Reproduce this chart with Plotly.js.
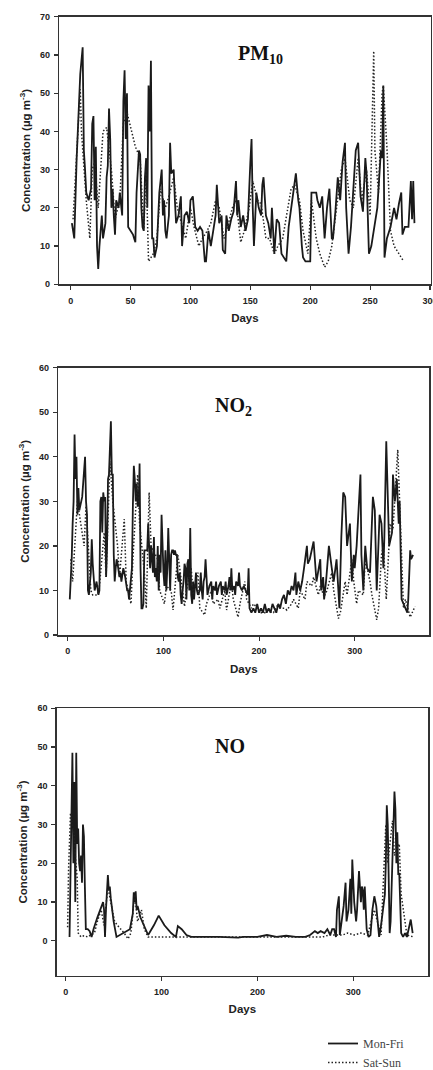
<!DOCTYPE html>
<html>
<head>
<meta charset="utf-8">
<script src="https://cdn.plot.ly/plotly-3.0.1.min.js"></script>
<style>
html,body{margin:0;padding:0;background:#fff;overflow:hidden;}
#chart{width:433px;}
</style>
</head>
<body>
<div id="chart"></div>
<script>
// ---------- PM10 ----------
const pm10WeekDays = [1,3,5,7,8,10,11,12,13,15,17,18,19,20,21,22,23,24,26,27,29,30,31,32,33,34,35,36,37,38,40,41,42,43,44,45,46,47,48,50,52,53,54,55,57,58,59,60,61,62,63,64,65,66,67,68,69,70,72,74,76,77,78,79,80,82,83,84,86,87,88,90,92,93,95,97,99,100,102,104,106,108,110,112,113,115,117,119,121,122,124,126,127,129,130,132,134,136,138,139,140,142,144,146,148,150,151,152,153,155,157,159,160,161,163,165,167,168,170,172,174,176,178,180,182,184,186,188,190,191,193,194,196,198,200,201,203,205,206,208,210,212,214,216,218,219,221,223,225,227,229,230,232,234,236,238,240,242,244,246,247,249,251,253,256,259,260,261,262,264,267,270,272,274,276,277,279,282,284,285,286,287];
const pm10WeekVals = [16,12,33,47,55,62,35,30,24,22,25,42,44,22,36,10,4,10,18,12,16,28,31,46,38,20,25,18,13,22,20,24,21,18,48,56,38,50,15,14,13,12,11,24,35,34,20,15,14,28,33,20,52,40,58.5,12,12,7,10,24,30,18,22,14,12,18,37,29,30,22,16,18,23,10,18,19,16,22,23,15,14,15,14,6,6,14,10,14,18,26,16,18,9,8,18,14,17,19,27,18,22,15,18,14,17,32,38,20,10,24,20,18,26,28,18,16,12,20,8,17,16,8,7,6,15,20,25,29,22,20,10,7,6,6,6,24,24,24,22,20,23,12,20,25,12,12,19,28,22,32,37,20,8,15,25,35,37,23,19,33,29,8,10,14,20,35,33,52,7,12,15,20,17,21,24,13,15,15,27,17,27,16];
const pm10EndDays = [2,6,8,9,13,16,18,20,23,27,30,34,37,41,44,47,51,54,58,61,63,65,69,72,75,79,82,86,89,93,96,100,103,107,110,114,117,121,124,128,131,135,138,142,145,149,152,156,159,163,166,170,173,177,180,184,187,191,194,198,201,205,208,212,215,218,222,226,229,233,236,240,243,247,250,253,254,257,260,261,264,267,270,274,278];
const pm10EndVals = [17,41,51,40,22,12,30,32,20,40,41,30,17,22,42,45,40,36,33,14,30,6,8,12,25,20,23,28,20,15,12,20,15,10,12,14,16,22,20,12,15,20,22,11,14,20,27,22,21,12,12,8,10,12,18,25,26,22,14,8,22,12,8,4.5,6,10,20,30,33,22,20,33,22,30,18,61,35,24,50,52,36,14,10,8,6];

// ---------- NO2 ----------
const no2WeekDays = [2,3,4,5,6,7,8,9,10,11,12,14,15,17,18,19,20,21,22,24,25,26,27,28,30,32,33,34,35,36,37,38,39,40,41,42,43,44,45,46,47,48,49,50,51,52,54,55,56,58,60,62,63,64,65,66,67,68,69,70,71,72,73,74,75,76,77,78,79,80,81,83,84,85,86,87,88,89,90,91,92,93,94,95,96,97,98,99,100,101,102,103,104,105,106,107,108,109,110,111,112,113,114,115,116,117,118,119,120,121,122,123,124,125,126,127,128,129,130,131,132,134,135,136,138,139,140,141,142,143,144,145,146,148,150,151,152,154,155,156,158,160,161,162,164,165,166,168,169,170,171,172,174,175,176,178,179,180,182,184,186,188,189,190,192,194,196,198,200,202,204,206,208,210,212,214,216,218,220,222,224,226,228,230,232,234,236,238,239,241,243,245,247,250,251,253,257,260,264,265,267,268,270,273,276,278,281,284,286,288,290,292,295,297,299,300,302,304,306,307,309,311,313,316,319,321,323,326,328,330,331,333,334,336,339,340,342,344,346,347,349,351,353,355,356,358,359,361];
const no2WeekVals = [8,12,17,25,30,45,35,40,27,33,28,30,31,37,40,30,27,10,9,14,21.5,16,12,10,12,9,10,30,31,23,32,30,31,13,20,35,36,44,48,36,36,18,12,15,17,16,13,14,12,15,13,10,10,8,10,13,15,29,38,35,30,34,29,29,38.5,15,6,6,7,19,19,19,25,20,15,20,16,14,22,13,15,12,20,10,18,14,27,17,14,11,19,10,15,24,16,10,18,19,19,18,19,18,18,13,12,14,9,7,10,12,16,15,8,16,17,10,24,9,7,12,8,14,10,9,10,14,10,8,12,13,17,11,9,11,12,8,11,10,12,9,11,12,9,11,10,12,9,11,13,10,15,10,11,9,12,11,14,11,10,11,10,9,15,6,5,6,5,7,5,6,5,7,5,6,5,7,6,5,7,6,8,9,7,10,9,11,10,14,9,12,10,12,15,20,16,17,21,12,17,10,13,8,12,20,15,12,17,6,22,32,31,20,25,12,18,15,20,28,36,18,10,20,15,14,31,28,10,27,25,15,22,43.5,35,20,23,36,30,35,25,30,8,7,6,5,8,19,17,18];
const no2EndDays = [3,5,10,12,17,19,24,26,31,33,38,40,44,47,52,54,59,61,66,68,73,75,80,82,85,87,94,96,101,103,108,110,115,117,122,124,129,131,136,138,143,145,150,152,157,159,164,166,171,173,178,180,185,187,192,194,199,201,206,208,213,215,220,222,227,229,234,236,241,243,248,250,255,257,262,264,268,271,276,278,283,285,290,292,297,299,302,304,309,311,316,318,323,325,328,330,333,337,340,344,345,351,353,358,363];
const no2EndVals = [17,12,30,27,20,29,10,9,9,11,23,13,39,30,20,13,26,12,7,17,36,25,14,6,32,20,17,10,7,11,10,5.6,18,15,6.4,10,15,9,14,6,4.5,7,10,7,8,6,10,5.6,12,8,4,7,12,8,6,7,6,5,5,6,5,5,7,6,6,5.6,7,8,6,10,8,12,11,13,9,11,8.6,10,14,10,3.7,5,12,9,17,12,7,10,9,17,12,9,3.4,6,18,20,8,25,23.6,38,41.6,6,8,4,6.4];

// ---------- NO ----------
const noWeekDays = [4,5,6,7,8,9,10,11,12,13,14,15,16,17,18,19,20,21,23,25,27,29,33,37,39,40,41,42,43,44,45,46,47,50,53,60,67,70,71,72,73,74,75,78,83,86,92,97,103,110,115,117,121,126,131,140,160,180,185,200,210,220,230,240,250,255,260,263,266,270,273,276,278,280,282,283,285,286,288,290,292,293,295,297,298,299,301,303,304,305,306,308,309,310,311,312,314,316,318,320,322,324,326,327,329,331,333,334,335,336,337,338,339,341,342,343,344,345,346,347,348,349,350,352,354,356,358,360,362];
const noWeekVals = [1,18,35,48.5,20,41,10,48.5,25,29,20,18,22,15,30,27,14,3,3,2.5,1,3,6,9,10,8,1,8,14,17,13,14,11,5,1,2,3,7,12.5,10,12.8,8,9,6,3,1.5,4,6.5,4,2,1,3.8,3,1.5,1,1,1,0.8,1,1,1.5,1,1.3,1,1,1.5,2.5,2,2.5,2,3,1.5,3,3,1,8,11.5,1.5,5,9,15,5,8,16,7,21,10,5,8,15,18,10,14,13,8,14,3,1,1.5,8,11.5,9,2,1,4,8,12,20,35,30,8,2,5,23,32,38.5,34,20,28,17,17.5,10,2,1,2,1,3,5.5,2];
const noEndDays = [2,3,5,9,10,12,13,16,19,23,26,30,33,37,40,44,47,51,54,58,61,65,68,72,75,79,82,86,89,93,96,100,107,114,121,128,135,142,149,156,163,170,177,184,191,198,205,212,219,226,233,240,247,254,261,268,275,282,289,294,301,308,315,322,329,334,336,341,343,348,350,356,363];
const noEndVals = [3.5,18.5,33,27,22,16,2,1,1.3,1,1.5,2,5,8,4,14,10,5,4,3,2,0.5,2,12,5,8,3,1,1,1,1,1,1,1,1,1,1,1,1,1,1,1,1,1,1,1,1,1,1,1,1,1,1,1,1,1,1.5,1.5,1.5,2,1.5,2,1.5,8,1.5,30,20,31,22,25,12,1.5,1];

const panelTitles = ['PM<sub>10</sub>', 'NO<sub>2</sub>', 'NO'];
const seriesNames = ['Mon-Fri', 'Sat-Sun'];
const yTitle = 'Concentration (µg m<sup>-3</sup>)';
const xTitle = 'Days';

const solidStyle = {color:'#1a1a1a', width:1.8, dash:'solid'};
const dotStyle = {color:'#222', width:1.5, dash:'1.5px,2px'};

function pair(xs, ys, xe, ye, ax, show){
  return [
    {x:xs, y:ys, type:'scatter', mode:'lines', line:solidStyle, name:seriesNames[0],
     xaxis:'x'+ax, yaxis:'y'+ax, showlegend:show, legendgroup:'wk', hoverinfo:'x+y'},
    {x:xe, y:ye, type:'scatter', mode:'lines', line:dotStyle, name:seriesNames[1],
     xaxis:'x'+ax, yaxis:'y'+ax, showlegend:show, legendgroup:'we', hoverinfo:'x+y'}
  ];
}

const data = [].concat(
  pair(pm10WeekDays, pm10WeekVals, pm10EndDays, pm10EndVals, '', true),
  pair(no2WeekDays, no2WeekVals, no2EndDays, no2EndVals, '2', false),
  pair(noWeekDays, noWeekVals, noEndDays, noEndVals, '3', false)
);

const tickFont = {family:'Arial, "Liberation Sans", sans-serif', size:9, color:'#222', weight:'bold'};
const titleFont = {family:'Arial, "Liberation Sans", sans-serif', size:11.5, color:'#222', weight:'bold'};

function xAxis(domain, range, dtick, anchor){
  return {domain:domain, range:range, anchor:anchor, tick0:0, dtick:dtick,
    ticks:'outside', ticklen:4, tickwidth:1.2, tickcolor:'#333',
    showline:true, linecolor:'#333', linewidth:1.5, mirror:true,
    showgrid:false, zeroline:false, tickfont:tickFont, ticklabelstandoff:3,
    ticklabeloverflow:'allow',
    title:{text:xTitle, font:titleFont, standoff:9}, fixedrange:true};
}
function yAxis(domain, range, anchor){
  return {domain:domain, range:range, anchor:anchor, tick0:0, dtick:10,
    ticks:'outside', ticklen:4, tickwidth:1.2, tickcolor:'#333',
    showline:true, linecolor:'#333', linewidth:1.5, mirror:true,
    showgrid:false, zeroline:false, tickfont:tickFont, ticklabelstandoff:2,
    title:{text:yTitle, font:titleFont, standoff:7}, fixedrange:true};
}

// figure is a little taller than the 1070px window so the legend can sit low
const W = 433, H = 1092;
const dx = (a,b)=>[a/W, b/W];
const dy = (top,bot)=>[1-bot/H, 1-top/H];

const titleFontSerif = {family:'"Liberation Serif", "Times New Roman", serif', size:20, color:'#111', weight:'bold'};

const layout = {
  width:W, height:H,
  margin:{l:0, r:0, t:0, b:0},
  paper_bgcolor:'#fff', plot_bgcolor:'#fff',
  showlegend:true,
  xaxis: xAxis(dx(59.3,430.5), [-9.5,300.4], 50, 'y'),
  yaxis: yAxis(dy(16.7,284.3), [0,70], 'x'),
  xaxis2: xAxis(dx(58.3,429.3), [-10,378], 100, 'y2'),
  yaxis2: yAxis(dy(367.7,635), [0,60], 'x2'),
  xaxis3: xAxis(dx(56.7,428), [-9.4,378], 100, 'y3'),
  yaxis3: yAxis(dy(708.3,975.7), [-9,60], 'x3'),
  annotations:[
    {text:'<b>'+panelTitles[0]+'</b>', xref:'x', yref:'y', x:138, y:60, xanchor:'left', yanchor:'middle', showarrow:false, font:titleFontSerif},
    {text:'<b>'+panelTitles[1]+'</b>', xref:'x2', yref:'y2', x:152, y:51.4, xanchor:'left', yanchor:'middle', showarrow:false, font:titleFontSerif},
    {text:'<b>'+panelTitles[2]+'</b>', xref:'x3', yref:'y3', x:154, y:50.3, xanchor:'left', yanchor:'middle', showarrow:false, font:titleFontSerif}
  ],
  legend:{x:323/W, y:1-1029/H, xanchor:'left', yanchor:'top',
    font:{family:'"Liberation Serif", "Times New Roman", serif', size:12, color:'#444'},
    bgcolor:'rgba(0,0,0,0)', borderwidth:0, tracegroupgap:0, traceorder:'normal'}
};

Plotly.newPlot('chart', data, layout, {displayModeBar:false, staticPlot:true});
</script>
</body>
</html>
